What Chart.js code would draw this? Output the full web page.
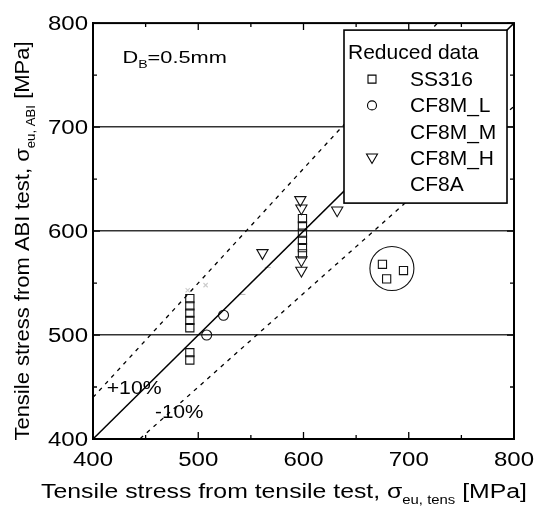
<!DOCTYPE html>
<html lang="en">
<head>
<meta charset="UTF-8">
<title>ABI test vs tensile test</title>
<script src="https://cdn.jsdelivr.net/npm/chart.js"></script>
<style>
  html, body { margin: 0; padding: 0; background: #fff; }
  #wrap { width: 545px; height: 512px; }
</style>
</head>
<body>
<div id="wrap"><canvas id="chart" width="545" height="512"></canvas></div>
<script>
// axis range and ticks
const axisMin = 400, axisMax = 800;
const majorStep = 100, minorStep = 50;
const gridValues = [500, 600, 700];

// reference lines: 1:1 and +/-10 %
const refX = [400, 800];
const refOne = [400, 800];
const refPlus = [440, 880];
const refMinus = [360, 720];

// SS316 (squares)
const ss316X = [492, 492, 492, 492, 492, 492, 492, 599, 599, 599, 599, 599, 599, 675, 679, 695];
const ss316Y = [535, 528, 521, 514, 507, 483, 476, 612, 605, 598, 591, 584, 578, 568, 554, 562];

// CF8M_L (circles)
const cf8mLX = [508, 524];
const cf8mLY = [500, 519];

// CF8M_M (faint in the scan)
const cf8mMX = [507, 490];
const cf8mMY = [548, 543];

// CF8M_H (down triangles)
const cf8mHX = [597, 598, 561, 632, 598, 598];
const cf8mHY = [630, 622, 579, 620, 572, 562];

// CF8A (faint in the scan)
const cf8aX = [542, 566];
const cf8aY = [539, 565];

// circled group
const groupX = [684];
const groupY = [564];

const legendTitle = 'Reduced data';
const legendNames = ['SS316', 'CF8M_L', 'CF8M_M', 'CF8M_H', 'CF8A'];
const legendMarks = ['rect', 'circle', null, 'tri', null];

const FONT = "'Liberation Sans', Arial, sans-serif";

function pts(xs, ys) {
    return xs.map((x, i) => ({ x: x, y: ys[i] }));
}

// text helpers; the scan is a bit wider than the font, so allow a stretch
function stretchText(ctx, t, x, y, size, sx, align) {
    ctx.save();
    ctx.translate(x, y);
    ctx.scale(sx, 1);
    ctx.font = size + 'px ' + FONT;
    ctx.textAlign = align;
    ctx.textBaseline = 'alphabetic';
    ctx.fillText(t, 0, 0);
    ctx.restore();
}

function drawRich(ctx, parts, x, base, size, sx, align) {
    const subSize = Math.round(size * 0.62);
    let w = 0;
    parts.forEach(p => {
        ctx.font = (p.sub ? subSize : size) + 'px ' + FONT;
        w += ctx.measureText(p.t).width;
    });
    ctx.save();
    ctx.translate(x, base);
    ctx.scale(sx, 1);
    let cx = align === 'left' ? 0 : -w / 2;
    ctx.textAlign = 'left';
    ctx.textBaseline = 'alphabetic';
    parts.forEach(p => {
        ctx.font = (p.sub ? subSize : size) + 'px ' + FONT;
        ctx.fillText(p.t, cx, p.sub ? size * 0.32 : 0);
        cx += ctx.measureText(p.t).width;
    });
    ctx.restore();
}

function drawMark(ctx, kind, x, y) {
    ctx.beginPath();
    if (kind === 'rect') {
        ctx.rect(x - 4, y - 4, 8, 8);
    } else if (kind === 'circle') {
        ctx.arc(x, y, 4.5, 0, Math.PI * 2);
    } else if (kind === 'tri') {
        ctx.moveTo(x - 5.5, y - 4);
        ctx.lineTo(x + 5.5, y - 4);
        ctx.lineTo(x, y + 5.5);
        ctx.closePath();
    }
    ctx.stroke();
}

const decor = {
    id: 'decor',
    afterDatasetsDraw(chart) {
        const ctx = chart.ctx;
        const xs = chart.scales.x, ys = chart.scales.y;
        const a = chart.chartArea;
        ctx.save();
        ctx.fillStyle = '#000';

        // annotations
        drawRich(ctx, [{ t: 'D' }, { t: 'B', sub: true }, { t: '=0.5mm' }],
            xs.getPixelForValue(428), ys.getPixelForValue(762), 17, 1.28, 'left');
        stretchText(ctx, '+10%', xs.getPixelForValue(413), ys.getPixelForValue(443), 18, 1.18, 'left');
        stretchText(ctx, '-10%', xs.getPixelForValue(459), ys.getPixelForValue(420), 18, 1.15, 'left');

        // legend box
        const lx = a.right - 170, ly = a.top + 7, lw = 163, lh = 173;
        ctx.fillStyle = '#fff';
        ctx.fillRect(lx, ly, lw, lh);
        ctx.strokeStyle = '#000';
        ctx.lineWidth = 1.6;
        ctx.strokeRect(lx, ly, lw, lh);
        ctx.fillStyle = '#000';
        ctx.font = '21px ' + FONT;
        ctx.textAlign = 'left';
        ctx.textBaseline = 'alphabetic';
        ctx.fillText(legendTitle, lx + 4, ly + 29);
        ctx.lineWidth = 1.1;
        legendNames.forEach((n, i) => {
            const base = ly + 56 + i * 26.3;
            ctx.fillText(n, lx + 66, base);
            if (legendMarks[i]) drawMark(ctx, legendMarks[i], lx + 28, base - 7);
        });
        ctx.restore();
    },
    afterDraw(chart) {
        const ctx = chart.ctx;
        const xs = chart.scales.x, ys = chart.scales.y;
        const a = chart.chartArea;
        ctx.save();
        ctx.strokeStyle = '#000';
        ctx.fillStyle = '#000';

        // inward ticks on all four sides
        ctx.lineWidth = 1.3;
        for (let v = axisMin; v <= axisMax; v += minorStep) {
            const len = (v % majorStep === 0) ? 7 : 4;
            const px = xs.getPixelForValue(v), py = ys.getPixelForValue(v);
            ctx.beginPath();
            ctx.moveTo(px, a.bottom); ctx.lineTo(px, a.bottom - len);
            ctx.moveTo(px, a.top); ctx.lineTo(px, a.top + len);
            ctx.moveTo(a.left, py); ctx.lineTo(a.left + len, py);
            ctx.moveTo(a.right, py); ctx.lineTo(a.right - len, py);
            ctx.stroke();
        }

        // frame
        ctx.lineWidth = 2;
        ctx.strokeRect(a.left, a.top, a.right - a.left, a.bottom - a.top);

        // tick labels from the scales
        xs.ticks.forEach(t => {
            stretchText(ctx, String(t.value), xs.getPixelForValue(t.value), a.bottom + 27, 20, 1.2, 'center');
        });
        ys.ticks.forEach(t => {
            stretchText(ctx, String(t.value), a.left - 5, ys.getPixelForValue(t.value) + 7, 20, 1.2, 'right');
        });

        // axis titles
        drawRich(ctx, [{ t: 'Tensile stress from tensile test, \u03c3' }, { t: 'eu, tens', sub: true }, { t: ' [MPa]' }],
            284, 498, 20, 1.24, 'center');
        ctx.translate(29, 241);
        ctx.rotate(-Math.PI / 2);
        drawRich(ctx, [{ t: 'Tensile stress from ABI test, \u03c3' }, { t: 'eu, ABI', sub: true }, { t: ' [MPa]' }],
            0, 0, 20, 1.1, 'center');
        ctx.restore();
    }
};

const lineStyle = { showLine: true, pointRadius: 0, borderColor: '#000', fill: false };
const markStyle = { showLine: false, borderColor: '#111', backgroundColor: 'rgba(0,0,0,0)', borderWidth: 1.1 };

new Chart(document.getElementById('chart'), {
    type: 'scatter',
    data: {
        datasets: [
            { label: '1:1', data: pts(refX, refOne), ...lineStyle, borderWidth: 1.5 },
            { label: '+10%', data: pts(refX, refPlus), ...lineStyle, borderWidth: 1.3, borderDash: [4, 5] },
            { label: '-10%', data: pts(refX, refMinus), ...lineStyle, borderWidth: 1.3, borderDash: [4, 5] },
            { label: 'SS316', data: pts(ss316X, ss316Y), ...markStyle, pointStyle: 'rect', pointRadius: 5.8 },
            { label: 'CF8M_L', data: pts(cf8mLX, cf8mLY), ...markStyle, pointStyle: 'circle', pointRadius: 5 },
            { label: 'CF8M_M', data: pts(cf8mMX, cf8mMY), ...markStyle, borderColor: '#ccc', pointStyle: 'crossRot', pointRadius: 3 },
            { label: 'CF8M_H', data: pts(cf8mHX, cf8mHY), ...markStyle, pointStyle: 'triangle', pointRotation: 180, pointRadius: 6.5 },
            { label: 'CF8A', data: pts(cf8aX, cf8aY), ...markStyle, borderColor: '#bbb', pointStyle: 'line', pointRadius: 3 },
            { label: 'group', data: pts(groupX, groupY), ...markStyle, pointStyle: 'circle', pointRadius: 22 }
        ]
    },
    options: {
        responsive: false,
        animation: false,
        layout: { padding: { left: 0, right: 31, top: 17, bottom: 0 } },
        plugins: { legend: { display: false }, tooltip: { enabled: false } },
        scales: {
            x: {
                type: 'linear', min: axisMin, max: axisMax,
                afterFit(s) { s.height = 73; },
                ticks: { stepSize: majorStep, display: false },
                grid: { display: false },
                border: { display: true, color: '#000', width: 2 }
            },
            y: {
                type: 'linear', min: axisMin, max: axisMax,
                afterFit(s) { s.width = 93; },
                ticks: { stepSize: majorStep, display: false },
                grid: {
                    drawTicks: false,
                    lineWidth: 1.5,
                    color: c => gridValues.includes(c.tick.value) ? '#333' : 'rgba(0,0,0,0)'
                },
                border: { display: true, color: '#000', width: 2 }
            }
        }
    },
    plugins: [decor]
});
</script>
</body>
</html>
